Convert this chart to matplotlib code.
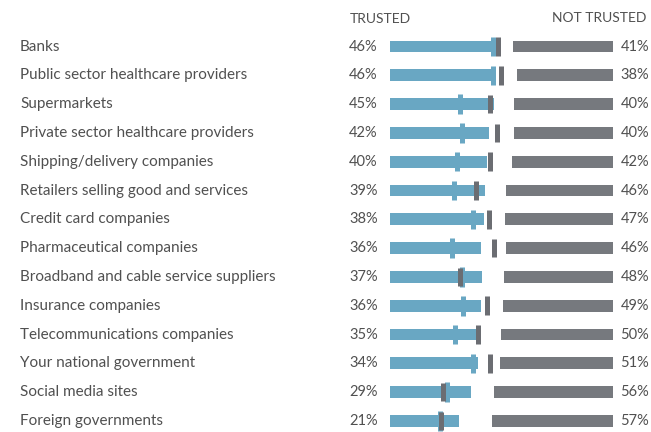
import matplotlib
matplotlib.use("Agg")
import matplotlib.pyplot as plt
from matplotlib.transforms import blended_transform_factory

plt.rcParams['font.family'] = ['Lato', 'DejaVu Sans']

# Data
categories = ['Banks', 'Public sector healthcare providers', 'Supermarkets',
              'Private sector healthcare providers', 'Shipping/delivery companies',
              'Retailers selling good and services', 'Credit card companies',
              'Pharmaceutical companies', 'Broadband and cable service suppliers',
              'Insurance companies', 'Telecommunications companies',
              'Your national government', 'Social media sites', 'Foreign governments']
trusted = [46, 46, 45, 42, 40, 39, 38, 36, 37, 36, 35, 34, 29, 21]
not_trusted = [41, 38, 40, 40, 42, 46, 47, 46, 48, 49, 50, 51, 56, 57]
# comparison ticks, on the trusted scale
marker_blue = [44.3, 44.3, 21.5, 23.1, 19.6, 17.4, 30.3, 16.2, 22.7, 23.2, 18.1, 30.7, 12.2, 7.3]
marker_grey = [48.0, 49.9, 42.2, 47.3, 42.3, 32.7, 41.9, 45.2, 21.3, 40.3, 33.8, 42.1, 9.9, 8.0]

# the bars do not start at 0 in the original
trusted_base = -27.5
not_trusted_base = -37

blue = '#69a7c3'
grey = '#76797e'
grey_dark = '#6b6d72'
text_col = '#505050'

W, H = 651, 432
fig = plt.figure(figsize=(W / 100, H / 100), dpi=100)

x0, x1 = 390, 613
y_top, y_bot = 32.1, 432
rect = [x0 / W, 1 - y_bot / H, (x1 - x0) / W, (y_bot - y_top) / H]
ax_t = fig.add_axes(rect)
ax_n = fig.add_axes(rect)
for ax in (ax_t, ax_n):
    ax.set_ylim(13.385, -0.5)
    ax.axis('off')
    ax.patch.set_alpha(0)

ax_t.set_xlim(trusted_base, trusted_base + (x1 - x0) / 1.43)
ax_n.set_xlim(not_trusted_base + (x1 - x0) / 1.284, not_trusted_base)

y = list(range(len(categories)))
ax_t.barh(y, [v - trusted_base for v in trusted], left=trusted_base, height=0.41, color=blue)
ax_n.barh(y, [v - not_trusted_base for v in not_trusted], left=not_trusted_base, height=0.41, color=grey)
ax_t.vlines(marker_blue, [i - 0.34 for i in y], [i + 0.34 for i in y], colors=blue, lw=3.6)
ax_t.vlines(marker_grey, [i - 0.32 for i in y], [i + 0.32 for i in y], colors=grey_dark, lw=3.6)

tr = blended_transform_factory(fig.transFigure, ax_t.transData)
for i, (cat, t, n) in enumerate(zip(categories, trusted, not_trusted)):
    fig.text(20 / W, i, cat, transform=tr, ha='left', va='center', fontsize=11, color=text_col)
    fig.text(349 / W, i, f'{t}%', transform=tr, ha='left', va='center', fontsize=10.5, color=text_col)
    fig.text(649 / W, i, f'{n}%', transform=tr, ha='right', va='center', fontsize=10.5, color=text_col)

fig.text(350 / W, 1 - 19 / H, 'TRUSTED', ha='left', va='center', fontsize=10, color=text_col)
fig.text(646 / W, 1 - 18 / H, 'NOT TRUSTED', ha='right', va='center', fontsize=10, color=text_col)

fig.savefig('out.png', dpi=100)
